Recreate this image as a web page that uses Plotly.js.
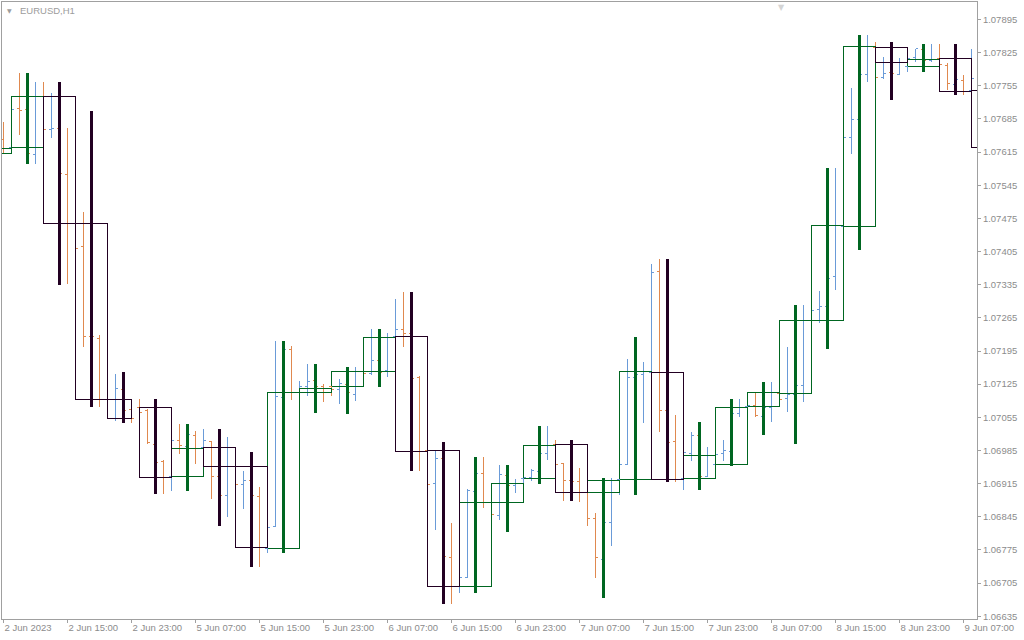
<!DOCTYPE html>
<html>
<head>
<meta charset="utf-8">
<script src="https://cdn.plot.ly/plotly-3.0.1.min.js"></script>
<style>
html,body{margin:0;padding:0;background:#fff;}
#chart{width:1024px;height:640px;}
#chart svg path{shape-rendering:crispEdges;}
</style>
</head>
<body>
<div id="chart"></div>
<script>
// ---- H1 bars (EURUSD, starting 2 Jun 2023 07:00) ----
const h1Open = [1.07641,1.07624,1.07708,1.07704,1.07609,1.07733,1.07663,1.07665,1.07568,1.07465,
1.07415,1.07225,1.07222,1.07093,1.07092,1.07114,1.07072,1.07076,1.07070,1.06998,
1.06962,1.06930,1.07006,1.06993,1.07017,1.06992,1.07003,1.06931,1.06889,1.06952,
1.06914,1.06921,1.06888,1.06778,1.06824,1.07097,1.07199,1.07108,1.07121,1.07133,
1.07121,1.07121,1.07113,1.07125,1.07104,1.07152,1.07148,1.07175,1.07154,1.07226,
1.07241,1.07232,1.07140,1.06985,1.06916,1.06968,1.06759,1.06698,1.06716,1.06899,
1.06937,1.06876,1.06848,1.06933,1.06911,1.06926,1.06927,1.06941,1.06979,1.06998,
1.06958,1.06922,1.06920,1.06897,1.06842,1.06755,1.06833,1.06924,1.06956,1.07140,
1.07146,1.07150,1.07363,1.07070,1.07004,1.06926,1.06979,1.07017,1.06930,1.06956,
1.06979,1.06983,1.07064,1.07078,1.07080,1.07056,1.07075,1.07106,1.07095,1.07104,
1.07123,1.07260,1.07283,1.07289,1.07352,1.07458,1.07646,1.07684,1.07779,1.07836,
1.07773,1.07784,1.07779,1.07796,1.07815,1.07832,1.07809,1.07813,1.07798,1.07758,
1.07767,1.07746,1.07771];
const h1High = [1.07679,1.07715,1.07783,1.07715,1.07762,1.07762,1.07740,1.07683,1.07665,1.07702,
1.07488,1.07239,1.07228,1.07102,1.07146,1.07151,1.07093,1.07094,1.07072,1.07007,
1.06965,1.07016,1.07040,1.07028,1.07026,1.07030,1.07005,1.06944,1.07014,1.06982,
1.06942,1.06927,1.06908,1.06823,1.07216,1.07214,1.07206,1.07132,1.07168,1.07142,
1.07125,1.07125,1.07136,1.07134,1.07161,1.07166,1.07242,1.07187,1.07233,1.07305,
1.07320,1.07239,1.07142,1.06997,1.06985,1.07003,1.06832,1.06722,1.06903,1.06948,
1.06972,1.06880,1.06954,1.06944,1.06925,1.06931,1.06946,1.07007,1.07037,1.07008,
1.06959,1.06933,1.06947,1.06902,1.06852,1.06838,1.06927,1.06961,1.07178,1.07225,
1.07172,1.07379,1.07389,1.07081,1.07060,1.06986,1.07025,1.07045,1.06992,1.06982,
1.07007,1.07094,1.07094,1.07092,1.07108,1.07081,1.07130,1.07113,1.07204,1.07134,
1.07292,1.07292,1.07322,1.07366,1.07581,1.07651,1.07750,1.07863,1.07862,1.07848,
1.07816,1.07799,1.07814,1.07816,1.07833,1.07841,1.07844,1.07844,1.07803,1.07788,
1.07777,1.07833,1.07778];
const h1Low = [1.07610,1.07620,1.07651,1.07603,1.07590,1.07651,1.07645,1.07556,1.07336,1.07398,
1.07204,1.07208,1.07077,1.07081,1.07048,1.07060,1.07042,1.07060,1.06998,1.06944,
1.06892,1.06899,1.06977,1.06954,1.06956,1.06982,1.06883,1.06826,1.06845,1.06902,
1.06861,1.06880,1.06738,1.06768,1.06823,1.07092,1.07092,1.07099,1.07099,1.07064,
1.07088,1.07099,1.07083,1.07063,1.07090,1.07134,1.07144,1.07118,1.07140,1.07218,
1.07204,1.07123,1.06941,1.06902,1.06816,1.06743,1.06661,1.06683,1.06715,1.06891,
1.06864,1.06842,1.06838,1.06813,1.06895,1.06914,1.06921,1.06933,1.06965,1.06948,
1.06879,1.06902,1.06877,1.06826,1.06716,1.06673,1.06784,1.06891,1.06955,1.07113,
1.07044,1.07144,1.07023,1.06965,1.06918,1.06902,1.06963,1.06923,1.06928,1.06952,
1.06962,1.06975,1.07056,1.07070,1.07056,1.07017,1.07046,1.07087,1.07067,1.06999,
1.07088,1.07199,1.07254,1.07271,1.07324,1.07408,1.07610,1.07672,1.07762,1.07767,
1.07769,1.07724,1.07778,1.07785,1.07805,1.07784,1.07805,1.07793,1.07746,1.07750,
1.07735,1.07736,1.07620];
const h1Close = [1.07622,1.07706,1.07702,1.07611,1.07733,1.07663,1.07665,1.07570,1.07465,1.07412,
1.07225,1.07225,1.07093,1.07092,1.07116,1.07070,1.07053,1.07066,1.07002,1.06960,
1.06928,1.07006,1.06996,1.07019,1.06990,1.07007,1.06930,1.06890,1.06952,1.06914,
1.06921,1.06889,1.06781,1.06822,1.07099,1.07199,1.07108,1.07121,1.07131,1.07121,
1.07116,1.07113,1.07127,1.07108,1.07152,1.07148,1.07175,1.07150,1.07224,1.07241,
1.07232,1.07137,1.06983,1.06914,1.06968,1.06762,1.06698,1.06716,1.06900,1.06937,
1.06876,1.06850,1.06935,1.06911,1.06916,1.06927,1.06943,1.06979,1.06996,1.06956,
1.06922,1.06920,1.06897,1.06842,1.06759,1.06833,1.06922,1.06956,1.07140,1.07146,
1.07152,1.07361,1.07070,1.07002,1.06924,1.06981,1.07017,1.06930,1.06975,1.06977,
1.06985,1.07062,1.07076,1.07080,1.07058,1.07075,1.07108,1.07093,1.07104,1.07123,
1.07260,1.07280,1.07289,1.07349,1.07461,1.07646,1.07684,1.07779,1.07838,1.07773,
1.07781,1.07781,1.07805,1.07813,1.07833,1.07809,1.07811,1.07799,1.07760,1.07769,
1.07743,1.07771,1.07625];

// ---- H4 candles drawn over the H1 chart ----
const h4Start = ['2 Jun 04:00','2 Jun 08:00','2 Jun 12:00','2 Jun 16:00','2 Jun 20:00',
'5 Jun 00:00','5 Jun 04:00','5 Jun 08:00','5 Jun 12:00','5 Jun 16:00','5 Jun 20:00',
'6 Jun 00:00','6 Jun 04:00','6 Jun 08:00','6 Jun 12:00','6 Jun 16:00','6 Jun 20:00',
'7 Jun 00:00','7 Jun 04:00','7 Jun 08:00','7 Jun 12:00','7 Jun 16:00','7 Jun 20:00',
'8 Jun 00:00','8 Jun 04:00','8 Jun 08:00','8 Jun 12:00','8 Jun 16:00','8 Jun 20:00',
'9 Jun 00:00','9 Jun 04:00','9 Jun 08:00'];
const h4Open = [1.07611,1.07624,1.07733,1.07465,1.07093,1.07076,1.06930,1.06992,1.06952,1.06778,
1.07108,1.07121,1.07152,1.07226,1.06985,1.06698,1.06876,1.06926,1.06998,1.06897,
1.06924,1.07150,1.06926,1.06956,1.07078,1.07106,1.07260,1.07458,1.07836,1.07796,
1.07813,1.07746];
const h4High = [1.07679,1.07783,1.07762,1.07702,1.07151,1.07094,1.07040,1.07030,1.06982,1.07217,
1.07168,1.07161,1.07242,1.07320,1.07003,1.06972,1.06954,1.07037,1.07008,1.06927,
1.07225,1.07389,1.07045,1.07094,1.07130,1.07292,1.07581,1.07863,1.07848,1.07844,
1.07844,1.07833];
const h4Low = [1.07607,1.07590,1.07334,1.07077,1.07042,1.06892,1.06899,1.06826,1.06738,1.06768,
1.07064,1.07063,1.07118,1.06941,1.06661,1.06683,1.06813,1.06914,1.06879,1.06673,
1.06891,1.06918,1.06902,1.06952,1.07017,1.06999,1.07199,1.07408,1.07724,1.07784,
1.07735,1.07620];
const h4Close = [1.07622,1.07733,1.07465,1.07093,1.07053,1.06928,1.06990,1.06952,1.06781,1.07108,
1.07116,1.07152,1.07224,1.06983,1.06698,1.06876,1.06916,1.06996,1.06897,1.06922,
1.07152,1.06924,1.06975,1.07076,1.07108,1.07260,1.07461,1.07838,1.07805,1.07811,
1.07743,1.07625];

// ---- time-axis labels (every 8 bars) ----
const xTickText = ['2 Jun 2023','2 Jun 15:00','2 Jun 23:00','5 Jun 07:00','5 Jun 15:00',
'5 Jun 23:00','6 Jun 07:00','6 Jun 15:00','6 Jun 23:00','7 Jun 07:00','7 Jun 15:00',
'7 Jun 23:00','8 Jun 07:00','8 Jun 15:00','8 Jun 23:00','9 Jun 07:00'];

// ---- bar index <-> time (weekend hours are skipped, as on the chart) ----
const HOUR = 3600e3;
const T0 = Date.UTC(2023, 5, 2, 7);
function isWeekend(t){ const d = new Date(t).getUTCDay(); return d === 0 || d === 6; }
function timeOfIndex(i){
  let t = T0;
  if (i >= 0) { for (let k = 0; k < i; k++) { t += HOUR; while (isWeekend(t)) t += HOUR; } }
  else { for (let k = 0; k < -i; k++) { t -= HOUR; while (isWeekend(t)) t -= HOUR; } }
  return t;
}
function indexOfLabel(lbl){
  const p = lbl.split(' ');
  const t = Date.UTC(2023, 5, parseInt(p[0], 10), parseInt(p[2], 10));
  for (let i = -10; i < 160; i++) if (timeOfIndex(i) === t) return i;
  return null;
}
const xIdx = h1Open.map((_, i) => i);
const tickVals = xTickText.map((_, j) => j * 8);

// ---- build H4 boxes and range lines ----
const bullBox = {x: [], y: []}, bearBox = {x: [], y: []};
const bullRng = {x: [], y: []}, bearRng = {x: [], y: []};
h4Start.forEach((lbl, k) => {
  const s = indexOfLabel(lbl);
  const e = (timeOfIndex(s + 4) - timeOfIndex(s) === 4 * HOUR) ? s + 4 : s + 3;
  const m = s + 2;
  const o = h4Open[k], c = h4Close[k];
  const bull = c >= o;
  const b = bull ? bullBox : bearBox, r = bull ? bullRng : bearRng;
  b.x.push(s, e, e, s, s, null); b.y.push(o, o, c, c, o, null);
  r.x.push(m, m, null); r.y.push(h4Low[k], h4High[k], null);
});

const GREEN = '#006621', DARK = '#220022';
const BLUE = '#6a9bd8', ORANGE = '#e0894f';
const AX = '#a0a0a0', TXT = '#8c8c8c';
const FONT = 'Liberation Sans, Arial, sans-serif';

const traces = [
  {type: 'ohlc', x: xIdx, open: h1Open, high: h1High, low: h1Low, close: h1Close,
   increasing: {line: {color: BLUE, width: 1}}, decreasing: {line: {color: ORANGE, width: 1}},
   tickwidth: 0.3, hoverinfo: 'skip', showlegend: false},
  {type: 'scatter', mode: 'lines', x: bullBox.x, y: bullBox.y, line: {color: GREEN, width: 1},
   hoverinfo: 'skip', showlegend: false},
  {type: 'scatter', mode: 'lines', x: bearBox.x, y: bearBox.y, line: {color: DARK, width: 1},
   hoverinfo: 'skip', showlegend: false},
  {type: 'scatter', mode: 'lines', x: bullRng.x, y: bullRng.y, line: {color: GREEN, width: 3},
   hoverinfo: 'skip', showlegend: false},
  {type: 'scatter', mode: 'lines', x: bearRng.x, y: bearRng.y, line: {color: DARK, width: 3},
   hoverinfo: 'skip', showlegend: false}
];

const layout = {
  width: 1024, height: 640,
  margin: {l: 2, r: 47, t: 2, b: 21, pad: 0},
  paper_bgcolor: '#ffffff', plot_bgcolor: '#ffffff',
  showlegend: false, hovermode: false, dragmode: false,
  font: {family: FONT, size: 9.5, color: TXT},
  xaxis: {
    type: 'linear', range: [-0.1875, 121.6875], fixedrange: true,
    tickvals: tickVals, ticktext: xTickText,
    ticks: 'outside', ticklen: 3, tickcolor: AX, tickwidth: 1,
    ticklabelposition: 'outside right',
    showgrid: false, zeroline: false,
    showline: true, mirror: true, linecolor: AX, linewidth: 1,
    rangeslider: {visible: false},
    tickfont: {family: FONT, size: 9.5, color: TXT}
  },
  yaxis: {
    side: 'right', range: [1.0662908, 1.0793195], fixedrange: true,
    tick0: 1.06635, dtick: 0.0007, tickformat: '.5f',
    ticks: 'outside', ticklen: 3, tickcolor: AX, tickwidth: 1,
    showgrid: false, zeroline: false,
    showline: true, mirror: true, linecolor: AX, linewidth: 1,
    tickfont: {family: FONT, size: 9.5, color: TXT}
  },
  annotations: [
    {xref: 'paper', yref: 'paper', x: 0, y: 1, xanchor: 'left', yanchor: 'middle',
     xshift: 16, yshift: -8, text: 'EURUSD,H1', showarrow: false,
     font: {family: FONT, size: 9.5, color: '#9c9c9c'}},
    {xref: 'paper', yref: 'paper', x: 0, y: 1, xanchor: 'center', yanchor: 'middle',
     xshift: 7, yshift: -8, text: '▼', showarrow: false,
     font: {family: 'DejaVu Sans', size: 6, color: '#9c9c9c'}},
    {xref: 'paper', yref: 'paper', x: 0.799, y: 1, xanchor: 'center', yanchor: 'top',
     yshift: 1, text: '▼', showarrow: false,
     font: {family: 'DejaVu Sans', size: 8, color: '#d4d4d4'}}
  ]
};

Plotly.newPlot('chart', traces, layout, {staticPlot: true, displayModeBar: false});
</script>
</body>
</html>
